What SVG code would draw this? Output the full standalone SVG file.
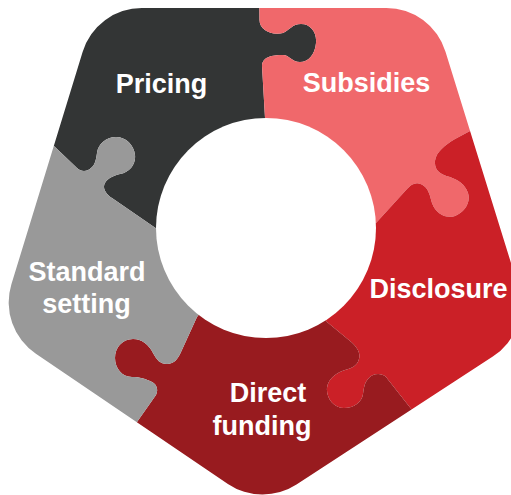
<svg xmlns="http://www.w3.org/2000/svg" width="511" height="495" viewBox="0 0 511 495">
  <style>
    .label { font-family: "Liberation Sans", Arial, sans-serif; font-weight: bold; font-size: 27px; fill: #ffffff; text-anchor: middle; }
  </style>
  <defs>
    <!-- rounded pentagon outline that all five pieces are cut from -->
    <clipPath id="pentagon">
      <path d="M 141.9 8 L 386.3 8 A 62 62 0 0 1 445.5 51.7 L 518.2 286.3 A 62 62 0 0 1 492.8 356.6 L 296.5 484.5 A 62 62 0 0 1 227.9 483.9 L 35.9 353.7 A 62 62 0 0 1 11.4 284.2 L 82.6 51.9 A 62 62 0 0 1 141.9 8 Z"/>
    </clipPath>
  </defs>

  <g clip-path="url(#pentagon)">
    <g id="pricing">
      <path fill="#333535" d="M 266 228 L 157 229 L 112 198 C 106 194 102 188 105 183 C 107 179 112 176 120 174 C 130 172 136 164 135 155 C 134 145 126 137 116 137 C 106 137 98 144 97 153 C 96 160 95 165 91 168 C 87 172 81 172 77 168 L 55 147 L 20 115 L -60 -60 L 259 -30 L 259.5 20 C 259.5 30 272 36 283 33 C 290 30 292 24 301 24 C 311 24 317 33 316 43 C 315 55 308 62 300 62 C 292 62 289 55 283 55 C 272 55 262 57 262 66 L 265 118 Z"/>
    </g>
    <g id="subsidies">
      <path fill="#F0686B" d="M 266 228 L 265 118 L 262 66 C 262 57 272 55 283 55 C 289 55 292 62 300 62 C 308 62 315 55 316 43 C 317 33 311 24 301 24 C 292 24 290 30 283 33 C 272 36 259.5 30 259.5 20 L 259 -30 L 600 -60 L 510 100 L 470 131 L 455 139 C 445 145 436 152 435 161 C 434 171 442 175 450 177 C 458 180 465 184 468 193 C 471 202 465 212 455 216 C 446 219 436 214 432 203 C 430 196 429 190 424 186 C 418 181 412 183 407 189 L 376 223 Z"/>
    </g>
    <g id="disclosure">
      <path fill="#CB2027" d="M 266 228 L 376 223 L 407 189 C 412 183 418 181 424 186 C 429 190 430 196 432 203 C 436 214 446 219 455 216 C 465 212 471 202 468 193 C 465 184 458 180 450 177 C 442 175 434 171 435 161 C 436 152 445 145 455 139 L 470 131 L 510 100 L 650 350 L 440 445 L 412 410 L 386 377 C 380 372 372 374 368 379 C 364 384 364 388 363 394 C 362 402 354 408 344 408 C 334 408 326 398 327 388 C 328 378 338 372 345 370 C 352 368 357 366 359 359 C 361 352 356 346 350 341 L 327 322 Z"/>
    </g>
    <g id="direct-funding">
      <path fill="#981B1F" d="M 266 228 L 327 322 L 350 341 C 356 346 361 352 359 359 C 357 366 352 368 345 370 C 338 372 328 378 327 388 C 326 398 334 408 344 408 C 354 408 362 402 363 394 C 364 388 364 384 368 379 C 372 374 380 372 386 377 L 412 410 L 440 445 L 262 650 L 110 470 L 137 422 L 156 395 C 159 389 156 383 150 381 C 145 379 140 377 132 377 C 122 377 115 368 115 358 C 115 348 122 339 133 339 C 142 339 149 345 153 353 C 157 360 160 364 167 364 C 174 364 178 359 181 352 L 197 317 Z"/>
    </g>
    <g id="standard-setting">
      <path fill="#999999" d="M 266 228 L 197 317 L 181 352 C 178 359 174 364 167 364 C 160 364 157 360 153 353 C 149 345 142 339 133 339 C 122 339 115 348 115 358 C 115 368 122 377 132 377 C 140 377 145 379 150 381 C 156 383 159 389 156 395 L 137 422 L 110 470 L -150 350 L 20 115 L 55 147 L 77 168 C 81 172 87 172 91 168 C 95 165 96 160 97 153 C 98 144 106 137 116 137 C 126 137 134 145 135 155 C 136 164 130 172 120 174 C 112 176 107 179 105 183 C 102 188 106 194 112 198 L 157 229 Z"/>
    </g>
  </g>

  <!-- open centre -->
  <circle cx="266" cy="228" r="110" fill="#ffffff"/>

  <g id="labels">
    <text class="label" x="161.5" y="93">Pricing</text>
    <text class="label" x="366.5" y="92">Subsidies</text>
    <text class="label" x="438.5" y="298">Disclosure</text>
    <text class="label" x="87" y="281">Standard</text>
    <text class="label" x="86.5" y="313">setting</text>
    <text class="label" x="268" y="402">Direct</text>
    <text class="label" x="262" y="435">funding</text>
  </g>
</svg>
